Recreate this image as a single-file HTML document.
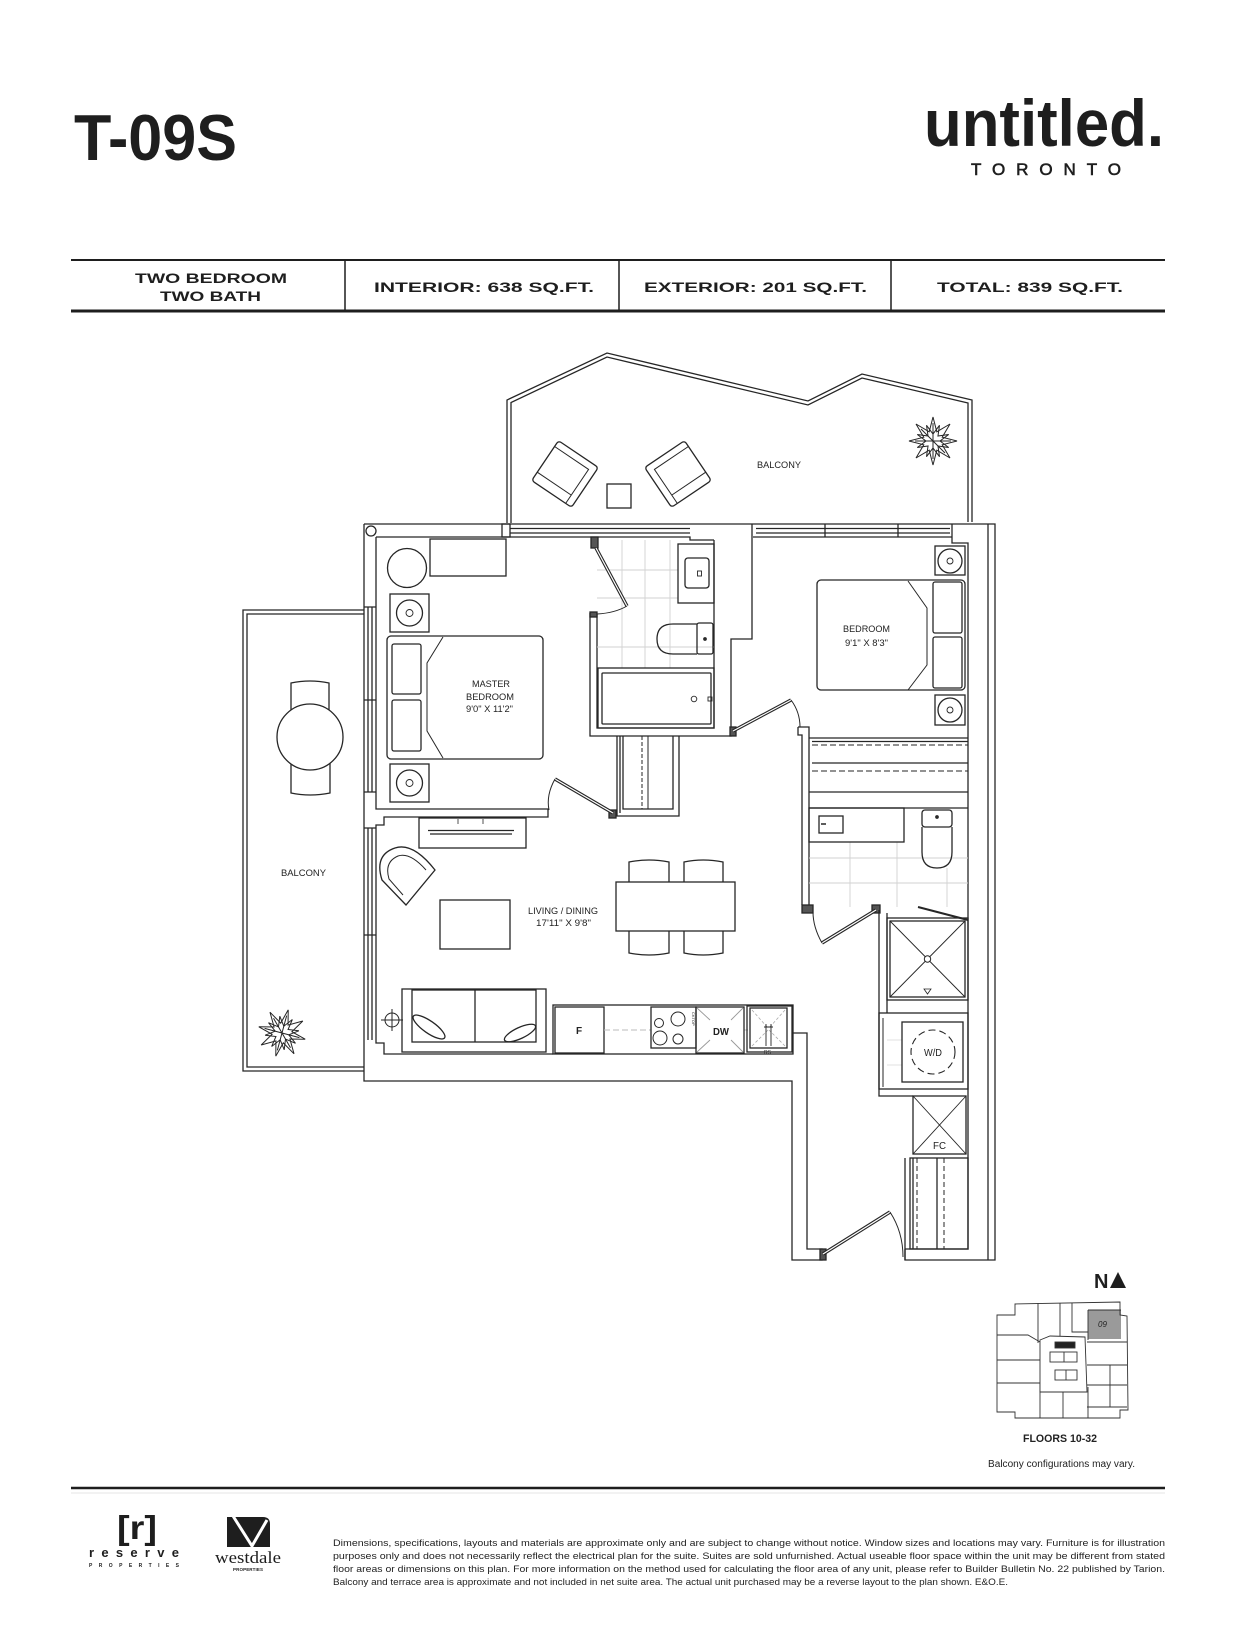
<!DOCTYPE html>
<html><head><meta charset="utf-8">
<style>
html,body{margin:0;padding:0;background:#fff;}
svg{display:block;}
text{font-family:"Liberation Sans",Arial,sans-serif;}
</style></head>
<body>
<svg width="1238" height="1650" viewBox="0 0 1238 1650" xmlns="http://www.w3.org/2000/svg">
<rect width="1238" height="1650" fill="#fff"/>

<!-- HEADER -->
<text x="74" y="160" font-size="65" font-weight="bold" textLength="163" lengthAdjust="spacingAndGlyphs" fill="#1e1e1e">T-09S</text>
<text x="924" y="146" font-size="66" font-weight="bold" textLength="240" lengthAdjust="spacingAndGlyphs" fill="#1e1e1e">untitled.</text>
<text x="971" y="175" font-size="17" textLength="150" lengthAdjust="spacing" fill="#1e1e1e" stroke="#1e1e1e" stroke-width="0.6">TORONTO</text>

<!-- SPEC TABLE -->
<g stroke="#1e1e1e">
<line x1="71" y1="260" x2="1165" y2="260" stroke-width="2"/>
<line x1="71" y1="311" x2="1165" y2="311" stroke-width="3"/>
<line x1="345" y1="260" x2="345" y2="311" stroke-width="1.5"/>
<line x1="619" y1="260" x2="619" y2="311" stroke-width="1.5"/>
<line x1="891" y1="260" x2="891" y2="311" stroke-width="1.5"/>
</g>
<g font-size="13.5" font-weight="bold" fill="#1e1e1e">
<text x="135" y="283" textLength="152" lengthAdjust="spacingAndGlyphs">TWO BEDROOM</text>
<text x="160" y="301" textLength="101" lengthAdjust="spacingAndGlyphs">TWO BATH</text>
<text x="374" y="292" textLength="220" lengthAdjust="spacingAndGlyphs">INTERIOR: 638 SQ.FT.</text>
<text x="644" y="292" textLength="223" lengthAdjust="spacingAndGlyphs">EXTERIOR: 201 SQ.FT.</text>
<text x="937" y="292" textLength="186" lengthAdjust="spacingAndGlyphs">TOTAL: 839 SQ.FT.</text>
</g>

<!-- FLOOR PLAN -->
<g fill="none" stroke="#262626" stroke-width="1.3">
<!-- top balcony -->
<path d="M507,523 L507,400 L607,353 L808,401 L862,374 L972,400 L972,522"/>
<path d="M511,523 L511,402.5 L607,357 L808,405 L862,378 L968,403 L968,522"/>
<!-- left balcony -->
<path d="M364,610 H243 V1071 H364"/>
<path d="M364,614 H247 V1067 H364"/>

<!-- exterior walls -->
<path d="M364,524 H995 V1260 H905 V1249"/>
<path d="M988,524 V1260"/>
<path d="M952,524 V543 H968 V1249 H905"/>
<path d="M364,524 V1081 H792 V1260 H822 V1249 H807 V1033 H793"/>
<!-- top windows -->
<path d="M510,528.5 H690 M510,533 H690"/>
<rect x="502" y="524" width="8" height="13"/>
<path d="M756,528.5 H950 M756,533 H950"/>
<path d="M825,524 V537 M898,524 V537"/>
<!-- master inner top -->
<path d="M376,537 H690 V540 H714"/>
<path d="M753,537 H952"/>
<!-- left wall inner + windows -->
<path d="M376,537 V809 H548 V817 H384 V825 H376 V1043 H384 V1054 H553"/>
<path d="M368,607 V792 M372,607 V792 M364,607 H376 M364,700 H376 M364,792 H376"/>
<path d="M368,828 V1040 M372,828 V1040 M364,828 H376 M364,935 H376"/>
<rect x="366" y="526" width="10" height="10" rx="5"/>

<!-- master bath walls -->
<path d="M752,524 V639 H731 V736 H590 V613"/>
<path d="M597,614 V728 H714 V540"/>
<rect x="591" y="537" width="7" height="11" fill="#555"/>
<rect x="590" y="612" width="7" height="5" fill="#555"/>
<!-- bath tiles -->
<g stroke="#d2d2d2" stroke-width="0.9">
<path d="M622,540 V668 M645,540 V668 M670,540 V668 M597,570 H678 M597,598 H678 M597,647 H714"/>
</g>
<!-- vanity & sink -->
<rect x="678" y="544" width="36" height="59"/>
<rect x="685" y="558" width="24" height="30" rx="3"/>
<rect x="697.5" y="571" width="4" height="5" stroke-width="0.9"/>
<!-- toilet -->
<rect x="697" y="623" width="16" height="31" rx="2"/>
<path d="M697,624 H673 Q657,624 657,639 Q657,654 673,654 H697"/>
<circle cx="705" cy="639" r="1.2" fill="#333"/>
<!-- tub -->
<rect x="598" y="668" width="116" height="60"/>
<rect x="602" y="673" width="109" height="51" rx="1"/>
<circle cx="694" cy="699" r="2.8" stroke-width="0.9"/>
<rect x="708" y="697" width="4" height="4" stroke-width="0.9"/>
<!-- bath door -->
<line x1="596" y1="548" x2="627" y2="606" stroke-width="3.4"/>
<line x1="596" y1="548" x2="627" y2="606" stroke="#fff" stroke-width="1.2"/>
<path d="M627,606 Q615,613 597,614" stroke-width="1"/>

<!-- master closet -->
<path d="M617,736 V816 H679 V736 M623,736 V809 H673 V736"/>
<path d="M620,736 V813"/>
<path d="M642,736 V809" stroke-dasharray="4,2" stroke-width="1"/>
<path d="M648,736 V809" stroke-width="1"/>
<!-- master door -->
<rect x="609" y="810" width="7" height="8" fill="#555"/>
<line x1="613" y1="813" x2="555" y2="779" stroke-width="3.4"/>
<line x1="613" y1="813" x2="555" y2="779" stroke="#fff" stroke-width="1.2"/>
<path d="M555,779 Q546,795 549,810" stroke-width="1"/>

<!-- bedroom 2 door & walls -->
<rect x="730" y="727" width="6" height="9" fill="#555"/>
<line x1="733" y1="731" x2="791" y2="700" stroke-width="3.4"/>
<line x1="733" y1="731" x2="791" y2="700" stroke="#fff" stroke-width="1.2"/>
<path d="M791,700 Q800,712 800,727" stroke-width="1"/>
<path d="M798,727 H809 V738 M798,727 V735 H802 V905 M809,738 V905"/>
<!-- bedroom 2 closet -->
<path d="M809,738 H968 M812,741.5 H968 M812,763 H968 M809,792 H968 M809,808 H968"/>
<path d="M812,745 H968 M812,771 H968" stroke-dasharray="6,3" stroke-width="1"/>

<!-- bath 2 -->
<g stroke="#d2d2d2" stroke-width="0.9">
<path d="M850,842 V907 M897,842 V907 M947,868 V907 M809,858 H968 M809,883 H968"/>
</g>
<rect x="809" y="808" width="95" height="34"/>
<rect x="819" y="816" width="24" height="17"/>
<line x1="821" y1="824" x2="826" y2="824" stroke-width="1.5"/>
<rect x="922" y="810" width="30" height="17" rx="3"/>
<path d="M922,827 V852 Q922,868 937,868 Q952,868 952,852 V827"/>
<circle cx="937" cy="817" r="1.2" fill="#333"/>
<!-- bath 2 door -->
<rect x="802" y="905" width="11" height="8" fill="#555"/>
<rect x="872" y="905" width="8" height="8" fill="#555"/>
<line x1="876" y1="910" x2="822" y2="943" stroke-width="3.4"/>
<line x1="876" y1="910" x2="822" y2="943" stroke="#fff" stroke-width="1.2"/>
<path d="M822,943 Q813,927 813,912" stroke-width="1"/>
<!-- shower -->
<line x1="918" y1="907" x2="968" y2="920" stroke-width="2"/>
<path d="M879,910 V1096 H913 M887,913 V1013"/>
<rect x="887" y="918" width="81" height="82"/>
<rect x="890" y="921" width="75" height="76"/>
<path d="M890,921 L965,997 M965,921 L890,997" stroke-width="0.9"/>
<circle cx="927.5" cy="959" r="3.2" fill="#fff" stroke-width="1"/>
<path d="M924,989 H931 L927.5,994 Z" stroke-width="0.8"/>
<!-- W/D -->
<rect x="879" y="1013" width="89" height="76"/>
<path d="M883,1018 V1087" stroke-width="1"/>
<g stroke="#d8d8d8" stroke-width="0.8"><path d="M887,1040 H902 M887,1065 H902"/></g>
<rect x="902" y="1022" width="61" height="60"/>
<circle cx="933" cy="1052" r="22" stroke-dasharray="7,4" stroke-width="1.1"/>
<!-- FC -->
<rect x="913" y="1096" width="53" height="58"/>
<path d="M913,1096 L966,1154 M966,1096 L913,1154" stroke-width="0.9"/>
<!-- closet near entry -->
<rect x="910" y="1158" width="58" height="91"/>
<path d="M913,1158 V1249 M937,1158 V1249"/>
<path d="M917,1158 V1249 M944,1158 V1249" stroke-dasharray="5,3" stroke-width="1"/>
<path d="M905,1158 V1260"/>
<!-- entry door -->
<rect x="820" y="1249" width="6" height="11" fill="#555"/>
<line x1="823" y1="1254" x2="890" y2="1212" stroke-width="3.4"/>
<line x1="823" y1="1254" x2="890" y2="1212" stroke="#fff" stroke-width="1.2"/>
<path d="M890,1212 Q903,1232 903,1257" stroke-width="1"/>

<!-- MASTER BEDROOM FURNITURE -->
<circle cx="407" cy="568" r="19.5"/>
<rect x="430" y="539" width="76" height="37"/>
<rect x="390" y="594" width="39" height="38"/>
<circle cx="409.5" cy="613" r="13"/>
<circle cx="409.5" cy="613" r="3.5" stroke-width="0.9"/>
<rect x="387" y="636" width="156" height="123" rx="4"/>
<path d="M443,637 L427,663 L427,731 L443,758" stroke-width="1"/>
<rect x="392" y="644" width="29" height="50" rx="2"/>
<rect x="392" y="700" width="29" height="51" rx="2"/>
<rect x="390" y="764" width="39" height="38"/>
<circle cx="409.5" cy="783" r="13"/>
<circle cx="409.5" cy="783" r="3.5" stroke-width="0.9"/>

<!-- BEDROOM 2 FURNITURE -->
<rect x="935" y="546" width="30" height="29"/>
<circle cx="950" cy="561" r="12"/>
<circle cx="950" cy="561" r="3" stroke-width="0.9"/>
<rect x="817" y="580" width="148" height="110" rx="4"/>
<path d="M908,581 L927,608 L927,665 L908,690" stroke-width="1"/>
<rect x="933" y="582" width="29" height="51" rx="2"/>
<rect x="933" y="637" width="29" height="51" rx="2"/>
<rect x="935" y="695" width="30" height="30"/>
<circle cx="950" cy="710" r="12"/>
<circle cx="950" cy="710" r="3" stroke-width="0.9"/>

<!-- TOP BALCONY FURNITURE -->
<g transform="translate(565,474) rotate(34)">
<rect x="-24" y="-24" width="48" height="48" rx="3"/>
<path d="M-24,-17 H17 V24" stroke-width="1"/>
<path d="M-24,14 H17" stroke-width="1"/>
</g>
<g transform="translate(678,474) rotate(-34)">
<rect x="-24" y="-24" width="48" height="48" rx="3"/>
<path d="M24,-17 H-17 V24" stroke-width="1"/>
<path d="M24,14 H-17" stroke-width="1"/>
</g>
<rect x="607" y="484" width="24" height="24"/>

<!-- LEFT BALCONY FURNITURE -->
<path d="M291,716 V683 Q310,679 329,683 V716"/>
<path d="M291,758 V793 Q310,797 330,793 V758"/>
<circle cx="310" cy="737" r="33" fill="#fff"/>

<!-- PLANTS -->
<g transform="translate(933,441)" stroke-width="1">
<polygon points="24,0 9.2,3.8 17,17 3.8,9.2 0,24 -3.8,9.2 -17,17 -9.2,3.8 -24,0 -9.2,-3.8 -17,-17 -3.8,-9.2 0,-24 3.8,-9.2 17,-17 9.2,-3.8"/>
<polygon points="15.7,6.5 4.95,4.95 6.5,15.7 0,7 -6.5,15.7 -4.95,4.95 -15.7,6.5 -7,0 -15.7,-6.5 -4.95,-4.95 -6.5,-15.7 0,-7 6.5,-15.7 4.95,-4.95 15.7,-6.5 7,0"/>
<path d="M0,0 L18,0 M0,0 L-18,0 M0,0 L0,18 M0,0 L0,-18 M0,0 L12,12 M0,0 L-12,-12"/>
</g>
<g transform="translate(282,1033) rotate(15)" stroke-width="1">
<polygon points="24,0 9.2,3.8 17,17 3.8,9.2 0,24 -3.8,9.2 -17,17 -9.2,3.8 -24,0 -9.2,-3.8 -17,-17 -3.8,-9.2 0,-24 3.8,-9.2 17,-17 9.2,-3.8"/>
<polygon points="15.7,6.5 4.95,4.95 6.5,15.7 0,7 -6.5,15.7 -4.95,4.95 -15.7,6.5 -7,0 -15.7,-6.5 -4.95,-4.95 -6.5,-15.7 0,-7 6.5,-15.7 4.95,-4.95 15.7,-6.5 7,0"/>
<path d="M0,0 L18,0 M0,0 L-18,0 M0,0 L0,18 M0,0 L0,-18 M0,0 L12,12 M0,0 L-12,-12"/>
</g>

<!-- LIVING FURNITURE -->
<rect x="419" y="818" width="107" height="30"/>
<path d="M428,830.5 H514 M430,834 H512" stroke-width="1.2"/>
<path d="M458,819 V824 M483,819 V824" stroke-width="0.8"/>
<path d="M406,905 L382,880 Q374,855 395,848 Q413,842 435,870 Z"/>
<path d="M403,895 L389,879 Q384,862 398,856 Q410,852 426,870" stroke-width="1"/>
<rect x="440" y="900" width="70" height="49"/>
<rect x="616" y="882" width="119" height="49"/>
<path d="M629,882 V862 Q649,858 669,862 V882"/>
<path d="M684,882 V862 Q703,858 723,862 V882"/>
<path d="M629,931 V953 Q649,957 669,953 V931"/>
<path d="M684,931 V953 Q703,957 723,953 V931"/>
<!-- sofa -->
<rect x="402" y="989" width="144" height="63"/>
<rect x="412" y="990" width="124" height="52"/>
<line x1="475" y1="990" x2="475" y2="1042"/>
<ellipse cx="429" cy="1027" rx="19" ry="6" transform="rotate(35 429 1027)"/>
<ellipse cx="520" cy="1033" rx="17" ry="5.5" transform="rotate(-25 520 1033)"/>
<!-- ceiling light -->
<circle cx="392" cy="1020" r="7" stroke-width="1"/>
<path d="M381,1020 H403 M392,1009 V1031" stroke-width="1"/>

<!-- KITCHEN -->
<rect x="553" y="1005" width="240" height="49"/>
<rect x="555" y="1007" width="49" height="46"/>
<path d="M604,1030 H651 M744,1030 H748" stroke="#bbb" stroke-dasharray="6,3" stroke-width="0.9"/>
<rect x="651" y="1007" width="45" height="41"/>
<circle cx="678" cy="1019" r="7" stroke-width="1"/>
<circle cx="659" cy="1023" r="4.5" stroke-width="1"/>
<circle cx="660" cy="1038" r="7" stroke-width="1"/>
<circle cx="678" cy="1039" r="5" stroke-width="1"/>
<rect x="696" y="1007" width="48" height="46"/>
<path d="M697,1008 L710,1020 M743,1008 L731,1020 M697,1052 L710,1040 M743,1052 L731,1040" stroke="#999" stroke-width="0.9"/>
<rect x="747" y="1006" width="45" height="46"/>
<rect x="750" y="1008" width="37" height="40"/>
<path d="M752,1010 L768,1028 M785,1010 L769,1028 M752,1046 L768,1030 M785,1046 L769,1030" stroke="#aaa" stroke-dasharray="3,2" stroke-width="0.8"/>
<path d="M766,1024 V1046 M771,1024 V1046 M764,1027 H773" stroke-width="0.9"/>
</g>

<!-- PLAN LABELS -->
<g fill="#222" font-size="9.5">
<text x="472" y="687" textLength="38" lengthAdjust="spacingAndGlyphs">MASTER</text>
<text x="466" y="700" textLength="48" lengthAdjust="spacingAndGlyphs">BEDROOM</text>
<text x="466" y="712" textLength="47" lengthAdjust="spacingAndGlyphs">9'0" X 11'2"</text>
<text x="843" y="632" textLength="47" lengthAdjust="spacingAndGlyphs">BEDROOM</text>
<text x="845" y="646" textLength="43" lengthAdjust="spacingAndGlyphs">9'1" X 8'3"</text>
<text x="757" y="468" textLength="44" lengthAdjust="spacingAndGlyphs">BALCONY</text>
<text x="281" y="876" textLength="45" lengthAdjust="spacingAndGlyphs">BALCONY</text>
<text x="528" y="914" textLength="70" lengthAdjust="spacingAndGlyphs">LIVING / DINING</text>
<text x="536" y="926" textLength="55" lengthAdjust="spacingAndGlyphs">17'11" X 9'8"</text>
<text x="576" y="1034" font-weight="bold" font-size="10">F</text>
<text x="713" y="1035" font-weight="bold" font-size="10" textLength="16" lengthAdjust="spacingAndGlyphs">DW</text>
<text x="924" y="1056" font-size="10" textLength="18" lengthAdjust="spacingAndGlyphs">W/D</text>
<text x="933" y="1149" font-size="10" textLength="13" lengthAdjust="spacingAndGlyphs">FC</text>
<text x="764" y="1054" font-size="5">RS</text>
<text x="0" y="0" font-size="4" transform="translate(692,1012) rotate(90)">CKTOP</text>
</g>

<!-- NORTH + KEY PLAN -->
<text x="1094" y="1288" font-size="20" font-weight="bold" fill="#1e1e1e">N</text>
<polygon points="1110,1288 1118,1272 1126,1288" fill="#1e1e1e"/>
<rect x="1088" y="1310" width="33" height="29" fill="#9a9a9a"/>
<g stroke="#333" stroke-width="0.9" fill="none">
<path d="M1015,1304 L1120,1302 L1120,1315 L1127,1316 L1128,1410 L1120,1410 L1120,1418 L1015,1418 L1015,1412 L997,1412 L997,1315 L1015,1315 Z"/>
<path d="M1038,1303 V1343 M1060,1303 V1340 M1072,1303 V1332 H1088 M1088,1310 V1340 M1088,1310 H1121 M997,1335 H1028 L1040,1342 M997,1360 H1040 M997,1383 H1040 M1040,1383 V1418 M1063,1392 V1418 M1088,1387 V1418 M1087,1342 H1127 M1087,1365 H1127 M1087,1385 H1127 M1087,1407 H1127 M1110,1365 V1407"/>
<path d="M1040,1340 L1050,1336 L1085,1337 L1087,1392 L1040,1392 Z" fill="#fff"/>
<rect x="1055" y="1342" width="20" height="6" fill="#222"/>
<rect x="1050" y="1352" width="27" height="10"/>
<rect x="1055" y="1370" width="22" height="10"/>
<path d="M1064,1352 V1362 M1066,1370 V1380"/>
</g>
<text x="1098" y="1327" font-size="8" font-style="italic" fill="#222">09</text>
<text x="1023" y="1442" font-size="11" font-weight="bold" fill="#222" textLength="74" lengthAdjust="spacingAndGlyphs">FLOORS 10-32</text>
<text x="988" y="1467" font-size="10" fill="#222" textLength="147" lengthAdjust="spacingAndGlyphs">Balcony configurations may vary.</text>

<!-- FOOTER -->
<line x1="71" y1="1488" x2="1165" y2="1488" stroke="#1e1e1e" stroke-width="2.5"/>
<line x1="71" y1="1493" x2="1165" y2="1493" stroke="#e6e6e6" stroke-width="1"/>
<text x="117" y="1539" font-size="33" font-weight="bold" fill="#1e1e1e" textLength="40" lengthAdjust="spacingAndGlyphs">[r]</text>
<text x="89" y="1557" font-size="13" font-weight="bold" fill="#1e1e1e" textLength="90" lengthAdjust="spacing">reserve</text>
<text x="89" y="1567" font-size="5" font-weight="bold" fill="#1e1e1e" textLength="90" lengthAdjust="spacing">PROPERTIES</text>
<path d="M227,1517 H263 Q270,1517 270,1524 V1547 H227 Z" fill="#1e1e1e"/>
<path d="M233,1516 L252,1546 L267,1520" stroke="#fff" stroke-width="3" fill="none"/>
<text x="215" y="1563" font-size="17" fill="#1e1e1e" textLength="66" lengthAdjust="spacingAndGlyphs" style="font-family:'Liberation Serif',serif">westdale</text>
<text x="233" y="1571" font-size="4.5" font-weight="bold" fill="#1e1e1e" textLength="30" lengthAdjust="spacing">PROPERTIES</text>
<g font-size="9.3" fill="#222">
<text x="333" y="1546" textLength="832" lengthAdjust="spacingAndGlyphs">Dimensions, specifications, layouts and materials are approximate only and are subject to change without notice. Window sizes and locations may vary. Furniture is for illustration</text>
<text x="333" y="1559" textLength="832" lengthAdjust="spacingAndGlyphs">purposes only and does not necessarily reflect the electrical plan for the suite. Suites are sold unfurnished. Actual useable floor space within the unit may be different from stated</text>
<text x="333" y="1572" textLength="832" lengthAdjust="spacingAndGlyphs">floor areas or dimensions on this plan.  For more information on the method used for calculating the floor area of any unit, please refer to Builder Bulletin No. 22 published by Tarion.</text>
<text x="333" y="1585" textLength="675" lengthAdjust="spacingAndGlyphs">Balcony and terrace area is approximate and not included in net suite area. The actual unit purchased may be a reverse layout to the plan shown. E&amp;O.E.</text>
</g>
</svg>
</body></html>
